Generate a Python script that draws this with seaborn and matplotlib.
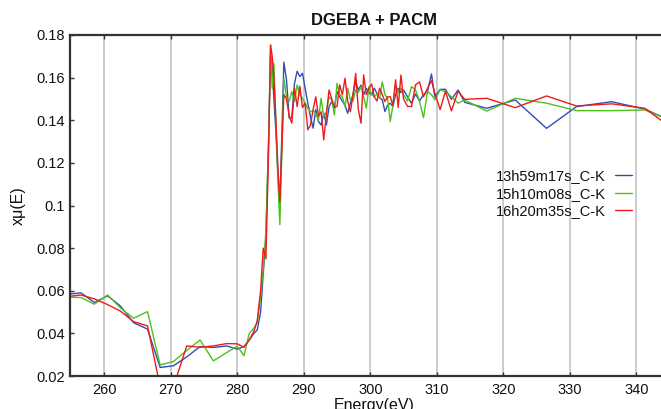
import numpy as np
import pandas as pd
import matplotlib
matplotlib.use("Agg")
import matplotlib.pyplot as plt
import seaborn as sns
from matplotlib.ticker import FuncFormatter

energy = [254.5, 256.5, 258.5, 260.5, 262.4, 264.4, 266.5, 268.4, 270.4, 272.4,
          274.4, 276.4, 278.4, 280.0, 281.0, 281.8, 282.5, 283.0, 283.5, 283.9,
          284.3, 284.7, 285.0, 285.25, 285.5, 285.8, 286.1, 286.4,
          287.0, 287.4, 287.8, 288.2, 288.6, 289.0, 289.4, 289.8, 290.2, 290.6,
          291.0, 291.4, 291.8, 292.2, 292.6, 293.0, 293.4, 293.8, 294.2, 294.6,
          295.0, 295.4, 295.8, 296.2, 296.6, 297.0, 297.4, 297.8, 298.2, 298.6,
          299.0, 299.4, 299.8, 300.2, 300.6, 301.0, 301.4, 301.8, 302.2, 302.6,
          303.0, 303.4, 303.8, 304.2, 304.6, 305.0,
          305.6, 306.2, 306.8, 307.4, 308.0, 308.6, 309.2, 309.7, 310.5, 311.3,
          312.2, 313.2, 314.2, 317.5, 321.8, 326.5, 331.0, 336.3, 341.3, 345.0]

blue_13h59 = [0.0584, 0.0590, 0.0545, 0.0576, 0.0529, 0.0450, 0.0420, 0.0240, 0.0248, 0.0290,
              0.0338, 0.0334, 0.0341, 0.0326, 0.0338, 0.0369, 0.0400, 0.0416, 0.0500, 0.0680,
              0.0850, 0.1300, 0.1700, 0.1650, 0.1500, 0.1350, 0.1150, 0.1000,
              0.1672, 0.1590, 0.1410, 0.1415, 0.1573, 0.1630, 0.1605, 0.1620, 0.1550, 0.1480,
              0.1417, 0.1363, 0.1450, 0.1394, 0.1378, 0.1433, 0.1378, 0.1464, 0.1488, 0.1460,
              0.1535, 0.1510, 0.1490, 0.1470, 0.1433, 0.1480, 0.1520, 0.1580, 0.1542, 0.1565,
              0.1519, 0.1550, 0.1530, 0.1520, 0.1550, 0.1526, 0.1505, 0.1496, 0.1441, 0.1470,
              0.1480, 0.1464, 0.1520, 0.1550, 0.1530, 0.1542,
              0.1510, 0.1480, 0.1523, 0.1490, 0.1520, 0.1535, 0.1617, 0.1510, 0.1545, 0.1545,
              0.1498, 0.1542, 0.1484, 0.1456, 0.1495, 0.1362, 0.1464, 0.1487, 0.1452, 0.1400]

green_15h10 = [0.0570, 0.0568, 0.0537, 0.0580, 0.0520, 0.0471, 0.0502, 0.0252, 0.0268, 0.0320,
               0.0369, 0.0271, 0.0310, 0.0340, 0.0295, 0.0400, 0.0424, 0.0450, 0.0570, 0.0700,
               0.0880, 0.1300, 0.1753, 0.1550, 0.1667, 0.1400, 0.1120, 0.0910,
               0.1597, 0.1510, 0.1488, 0.1535, 0.1488, 0.1566, 0.1520, 0.1503, 0.1480, 0.1456,
               0.1440, 0.1445, 0.1433, 0.1400, 0.1503, 0.1417, 0.1440, 0.1510, 0.1496, 0.1425,
               0.1573, 0.1520, 0.1510, 0.1464, 0.1550, 0.1496, 0.1490, 0.1542, 0.1530, 0.1558,
               0.1510, 0.1457, 0.1558, 0.1520, 0.1510, 0.1523, 0.1503, 0.1580, 0.1520, 0.1503,
               0.1394, 0.1470, 0.1566, 0.1530, 0.1550, 0.1520,
               0.1490, 0.1558, 0.1542, 0.1490, 0.1412, 0.1535, 0.1520, 0.1496, 0.1543, 0.1535,
               0.1510, 0.1480, 0.1495, 0.1443, 0.1503, 0.1480, 0.1445, 0.1445, 0.1448, 0.1400]

red_16h20 = [0.0573, 0.0580, 0.0562, 0.0535, 0.0505, 0.0455, 0.0435, 0.0150, 0.0150, 0.0341,
             0.0335, 0.0341, 0.0352, 0.0351, 0.0335, 0.0369, 0.0410, 0.0460, 0.0600, 0.0800,
             0.0750, 0.1250, 0.1753, 0.1700, 0.1600, 0.1400, 0.1180, 0.1020,
             0.1520, 0.1500, 0.1420, 0.1387, 0.1551, 0.1464, 0.1560, 0.1460, 0.1480, 0.1355,
             0.1378, 0.1450, 0.1510, 0.1420, 0.1440, 0.1308, 0.1430, 0.1542, 0.1500, 0.1460,
             0.1465, 0.1566, 0.1520, 0.1597, 0.1490, 0.1440, 0.1520, 0.1620, 0.1450, 0.1386,
             0.1613, 0.1520, 0.1550, 0.1570, 0.1510, 0.1490, 0.1550, 0.1520, 0.1488, 0.1510,
             0.1510, 0.1470, 0.1590, 0.1460, 0.1612, 0.1500,
             0.1465, 0.1464, 0.1566, 0.1580, 0.1510, 0.1550, 0.1586, 0.1527, 0.1450, 0.1536,
             0.1444, 0.1536, 0.1498, 0.1503, 0.1459, 0.1514, 0.1467, 0.1477, 0.1456, 0.1370]

series_names = ["13h59m17s_C-K", "15h10m08s_C-K", "16h20m35s_C-K"]
series_colors = ["#2e4fb5", "#4fc01e", "#f01a1a"]
x_ticks = [260, 270, 280, 290, 300, 310, 320, 330, 340]
y_ticks = [0.02, 0.04, 0.06, 0.08, 0.10, 0.12, 0.14, 0.16, 0.18]

frames = []
for name, vals in zip(series_names, [blue_13h59, green_15h10, red_16h20]):
    frames.append(pd.DataFrame({"Energy": energy, "mu": vals, "scan": name}))
df = pd.concat(frames, ignore_index=True)

sns.set_theme(style="white")
plt.rcParams["font.family"] = ["Liberation Sans", "DejaVu Sans"]

W, H = 661, 409
fig = plt.figure(figsize=(W / 100, H / 100), dpi=100)
left_px, right_px, top_px, bot_px = 70, 678, 35, 376
ax = fig.add_axes([left_px / W, (H - bot_px) / H, (right_px - left_px) / W, (bot_px - top_px) / H])

sns.lineplot(data=df, x="Energy", y="mu", hue="scan", palette=series_colors,
             estimator=None, sort=False, linewidth=1.0, ax=ax, legend=True)

px_per_ev = 6.65
ax.set_xlim(260 + (left_px - 104.3) / px_per_ev, 260 + (right_px - 104.3) / px_per_ev)
ax.set_ylim(0.02, 0.18)
ax.set_xticks(x_ticks)
ax.set_yticks(y_ticks)
ax.yaxis.set_major_formatter(FuncFormatter(lambda v, p: f"{v:g}"))
ax.xaxis.grid(True, color="#c4c4c4", linewidth=1.2)
ax.yaxis.grid(False)
ax.set_axisbelow(True)

for side in ["left", "top", "bottom"]:
    ax.spines[side].set_color("#333333")
    ax.spines[side].set_linewidth(1.6)
ax.spines["right"].set_visible(False)
ax.tick_params(axis="both", direction="in", length=3, width=1, color="#333333",
               labelsize=10.5, labelcolor="#111111", top=True, bottom=True, left=True)
ax.tick_params(axis="x", pad=5)

ax.set_title("DGEBA + PACM", fontsize=12, fontweight="bold", color="#111111", pad=7)
ax.set_xlabel("Energy(eV)", fontsize=11.5, color="#111111", labelpad=1)
ax.set_ylabel("xμ(E)", fontsize=11.5, color="#111111", labelpad=8)

leg = ax.legend(loc="upper right", bbox_to_anchor=(632 / W, 1 - 169 / H),
                bbox_transform=fig.transFigure, frameon=False, markerfirst=False,
                fontsize=10.5, handlelength=1.2, handletextpad=0.6,
                labelspacing=0.25, borderpad=0, borderaxespad=0, title=None)
for t in leg.get_texts():
    t.set_color("#111111")

fig.savefig("out.png", dpi=100)
